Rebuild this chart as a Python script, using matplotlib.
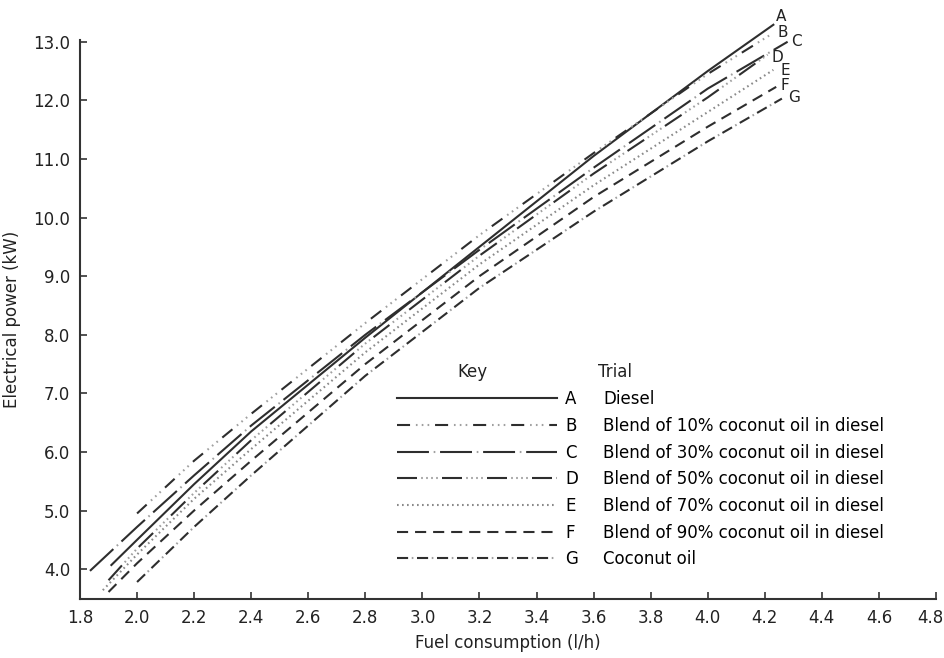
import numpy as np
import matplotlib
matplotlib.use("Agg")
import matplotlib.pyplot as plt
from matplotlib.lines import Line2D
from matplotlib.ticker import FormatStrFormatter
from matplotlib.transforms import ScaledTranslation

plt.rcParams['font.family'] = ['DejaVu Sans']
plt.rcParams['lines.scale_dashes'] = False

# trials
letters = ["A", "B", "C", "D", "E", "F", "G"]
trials = ["Diesel",
          "Blend of 10% coconut oil in diesel",
          "Blend of 30% coconut oil in diesel",
          "Blend of 50% coconut oil in diesel",
          "Blend of 70% coconut oil in diesel",
          "Blend of 90% coconut oil in diesel",
          "Coconut oil"]

# fuel consumption (l/h) / electrical power (kW)
diesel_x = [1.91, 2.0, 2.2, 2.4, 2.8, 3.2, 3.6, 4.0, 4.23]
diesel_y = [4.07, 4.50, 5.45, 6.35, 7.95, 9.50, 11.05, 12.50, 13.29]
blend10_x = [2.0, 2.2, 2.4, 2.8, 3.2, 3.6, 4.0, 4.22]
blend10_y = [4.95, 5.85, 6.65, 8.20, 9.70, 11.10, 12.45, 13.12]
blend30_x = [1.835, 2.0, 2.2, 2.4, 2.8, 3.2, 3.6, 4.0, 4.28]
blend30_y = [3.97, 4.72, 5.60, 6.45, 8.00, 9.45, 10.85, 12.20, 13.00]
blend50_x = [1.90, 2.0, 2.2, 2.4, 2.8, 3.2, 3.6, 4.0, 4.21]
blend50_y = [3.81, 4.35, 5.30, 6.20, 7.85, 9.35, 10.75, 12.05, 12.78]
blend70_x = [1.88, 2.0, 2.2, 2.4, 2.8, 3.2, 3.6, 4.0, 4.23]
blend70_y = [3.64, 4.25, 5.20, 6.05, 7.70, 9.20, 10.55, 11.80, 12.52]
blend90_x = [1.90, 2.0, 2.2, 2.4, 2.8, 3.2, 3.6, 4.0, 4.24]
blend90_y = [3.61, 4.10, 5.00, 5.85, 7.50, 9.00, 10.35, 11.55, 12.23]
coconut_x = [2.0, 2.2, 2.4, 2.8, 3.2, 3.6, 4.0, 4.26]
coconut_y = [3.78, 4.72, 5.60, 7.30, 8.80, 10.10, 11.30, 12.03]

series_x = [diesel_x, blend10_x, blend30_x, blend50_x, blend70_x, blend90_x, coconut_x]
series_y = [diesel_y, blend10_y, blend30_y, blend50_y, blend70_y, blend90_y, coconut_y]

dark = "#2e2e2e"
grey = "#a0a0a0"

# line style, grey dot overlay, colour, end label offset (pixels)
styles = {
    "A": dict(ls="-", dots=None, color=dark, off=(8, 8)),
    "B": dict(ls=(0, (9.4, 18.0)), dots=(13.8, (1.2, 3, 1.2, 3, 1.2, 17.8)), color=dark, off=(12, 2)),
    "C": dict(ls=(0, (23, 8)), dots=(4.6, (1.2, 29.8)), color=dark, off=(9, 0)),
    "D": dict(ls=(0, (14.4, 18.0)), dots=(15, (1.2, 2.4, 1.2, 2.4, 1.2, 2.4, 1.2, 20.4)), color=dark, off=(10, -3)),
    "E": dict(ls=(0, (1.2, 2.4)), dots=None, color="#8a8a8a", off=(12, -1)),
    "F": dict(ls=(0, (8, 5)), dots=None, color=dark, off=(9, 1)),
    "G": dict(ls=(0, (8, 6.4)), dots=(3.8, (1.2, 13.2)), color=dark, off=(12, 1)),
}

fig = plt.figure(figsize=(9.44, 6.58), dpi=100)
ax = fig.add_axes([80 / 944, 59 / 658, 856 / 944, 559 / 658])

handles = []
for letter, xs, ys in zip(letters, series_x, series_y):
    st = styles[letter]
    h = ax.plot(xs, ys, color=st["color"], lw=1.5, linestyle=st["ls"], clip_on=False)[0]
    handle = h
    if st["dots"] is not None:
        h2 = ax.plot(xs, ys, color=grey, lw=1.5, linestyle=st["dots"], clip_on=False)[0]
        handle = (h, h2)
    handles.append(handle)
    ax.annotate(letter, xy=(xs[-1], ys[-1]), xytext=st["off"], textcoords="offset pixels",
                ha="center", va="center", fontsize=11, color="#222222", annotation_clip=False)

ax.set_xlim(1.8, 4.8)
ax.set_ylim(3.49, 13.03)
ax.set_xticks(np.round(np.arange(1.8, 4.81, 0.2), 1))
ax.set_yticks(np.arange(4.0, 13.01, 1.0))
ax.xaxis.set_major_formatter(FormatStrFormatter("%.1f"))
ax.yaxis.set_major_formatter(FormatStrFormatter("%.1f"))
ax.tick_params(axis="both", direction="in", length=5, width=1.2, color="#333333",
               labelsize=12, labelcolor="#222222")
ax.tick_params(axis="x", pad=7)
ax.tick_params(axis="y", pad=7)

# keep the last x tick label inside the picture
last = ax.get_xticklabels()[-1]
last.set_transform(last.get_transform() + ScaledTranslation(-6 / 100, 0, fig.dpi_scale_trans))

for side in ["top", "right"]:
    ax.spines[side].set_visible(False)
for side in ["left", "bottom"]:
    ax.spines[side].set_linewidth(1.5)
    ax.spines[side].set_color("#333333")

ax.set_xlabel("Fuel consumption (l/h)", fontsize=12, color="#222222", labelpad=5)
ax.set_ylabel("Electrical power (kW)", fontsize=12, color="#222222", labelpad=9)

# key
leg1 = ax.legend(handles, letters, loc="upper left", bbox_to_anchor=(397 / 944, 0.407),
                 bbox_transform=fig.transFigure, frameon=False, fontsize=12,
                 handlelength=9.6, handletextpad=0.5, labelspacing=0.52,
                 borderpad=0, borderaxespad=0)
ax.add_artist(leg1)
blank = [Line2D([], [], linestyle="none") for _ in trials]
leg2 = ax.legend(blank, trials, loc="upper left", bbox_to_anchor=(603 / 944, 0.407),
                 bbox_transform=fig.transFigure, frameon=False, fontsize=12,
                 handlelength=0, handletextpad=0, labelspacing=0.52,
                 borderpad=0, borderaxespad=0)

fig.text(472 / 944, (658 - 372) / 658, "Key", ha="center", va="center", fontsize=12, color="#222222")
fig.text(598 / 944, (658 - 372) / 658, "Trial", ha="left", va="center", fontsize=12, color="#222222")

fig.savefig("out.png", dpi=100)
